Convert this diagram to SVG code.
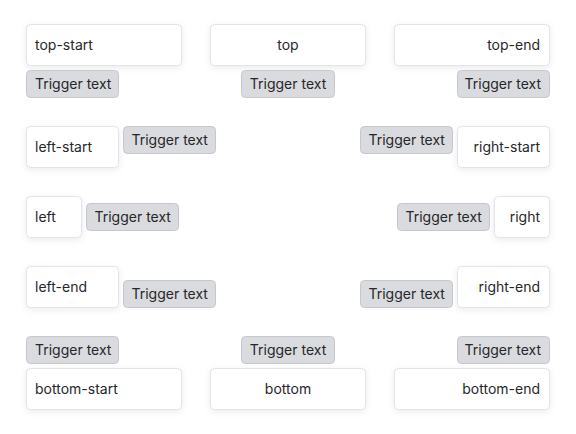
<svg xmlns="http://www.w3.org/2000/svg" width="576" height="434" viewBox="0 0 576 434">
<style>
.bx{fill:#ffffff;stroke:#e3e4e8;stroke-width:1;filter:url(#sh)}
.tg{fill:#d9dbdf;stroke:#c4c7cd;stroke-width:1}
text{font-family:Inter,"Noto Sans","Liberation Sans",sans-serif;font-size:14px;fill:#27272a}
.s{text-anchor:start}.m{text-anchor:middle}.e{text-anchor:end}
</style>
<defs>
<filter id="sh" x="-20%" y="-30%" width="140%" height="180%">
<feDropShadow dx="0" dy="2" stdDeviation="3" flood-color="#000" flood-opacity="0.08"/>
</filter>
</defs>
<rect width="576" height="434" fill="#ffffff"/>
<g id="connectors"></g>

<g id="top-start"><rect class="bx" x="26.5" y="24.5" width="155" height="41" rx="4"/><text class="s" x="35" y="50">top-start</text>
<rect class="tg" x="26.5" y="70.5" width="92" height="27" rx="4"/><text class="s" x="35" y="89">Trigger text</text></g>

<g id="top"><rect class="bx" x="210.5" y="24.5" width="155" height="41" rx="4"/><text class="m" x="288" y="50">top</text>
<rect class="tg" x="241.5" y="70.5" width="93" height="27" rx="4"/><text class="m" x="288" y="89">Trigger text</text></g>

<g id="top-end"><rect class="bx" x="394.5" y="24.5" width="155" height="41" rx="4"/><text class="e" x="540" y="50">top-end</text>
<rect class="tg" x="457.5" y="70.5" width="92" height="27" rx="4"/><text class="e" x="541" y="89">Trigger text</text></g>

<g id="left-start"><rect class="bx" x="26.5" y="126.5" width="92" height="41" rx="4"/><text class="s" x="35" y="152">left-start</text>
<rect class="tg" x="123.5" y="126.5" width="92" height="27" rx="4"/><text class="s" x="131.5" y="145">Trigger text</text></g>

<g id="right-start"><rect class="bx" x="457.5" y="126.5" width="92" height="41" rx="4"/><text class="e" x="540" y="152">right-start</text>
<rect class="tg" x="360.5" y="126.5" width="92" height="27" rx="4"/><text class="s" x="368.5" y="145">Trigger text</text></g>

<g id="left"><rect class="bx" x="26.5" y="196.5" width="55" height="41" rx="4"/><text class="s" x="35" y="222">left</text>
<rect class="tg" x="86.5" y="203.5" width="92" height="27" rx="4"/><text class="s" x="94.5" y="222">Trigger text</text></g>

<g id="right"><rect class="bx" x="494.5" y="196.5" width="55" height="41" rx="4"/><text class="e" x="540" y="222">right</text>
<rect class="tg" x="397.5" y="203.5" width="92" height="27" rx="4"/><text class="s" x="405.5" y="222">Trigger text</text></g>

<g id="left-end"><rect class="bx" x="26.5" y="266.5" width="92" height="41" rx="4"/><text class="s" x="35" y="292">left-end</text>
<rect class="tg" x="123.5" y="280.5" width="92" height="27" rx="4"/><text class="s" x="131.5" y="299">Trigger text</text></g>

<g id="right-end"><rect class="bx" x="457.5" y="266.5" width="92" height="41" rx="4"/><text class="e" x="540" y="292">right-end</text>
<rect class="tg" x="360.5" y="280.5" width="92" height="27" rx="4"/><text class="s" x="368.5" y="299">Trigger text</text></g>

<g id="bottom-start"><rect class="tg" x="26.5" y="336.5" width="92" height="27" rx="4"/><text class="s" x="35" y="355">Trigger text</text>
<rect class="bx" x="26.5" y="368.5" width="155" height="41" rx="4"/><text class="s" x="35" y="394">bottom-start</text></g>

<g id="bottom"><rect class="tg" x="241.5" y="336.5" width="93" height="27" rx="4"/><text class="m" x="288" y="355">Trigger text</text>
<rect class="bx" x="210.5" y="368.5" width="155" height="41" rx="4"/><text class="m" x="288" y="394">bottom</text></g>

<g id="bottom-end"><rect class="tg" x="457.5" y="336.5" width="92" height="27" rx="4"/><text class="e" x="541" y="355">Trigger text</text>
<rect class="bx" x="394.5" y="368.5" width="155" height="41" rx="4"/><text class="e" x="540" y="394">bottom-end</text></g>
</svg>
